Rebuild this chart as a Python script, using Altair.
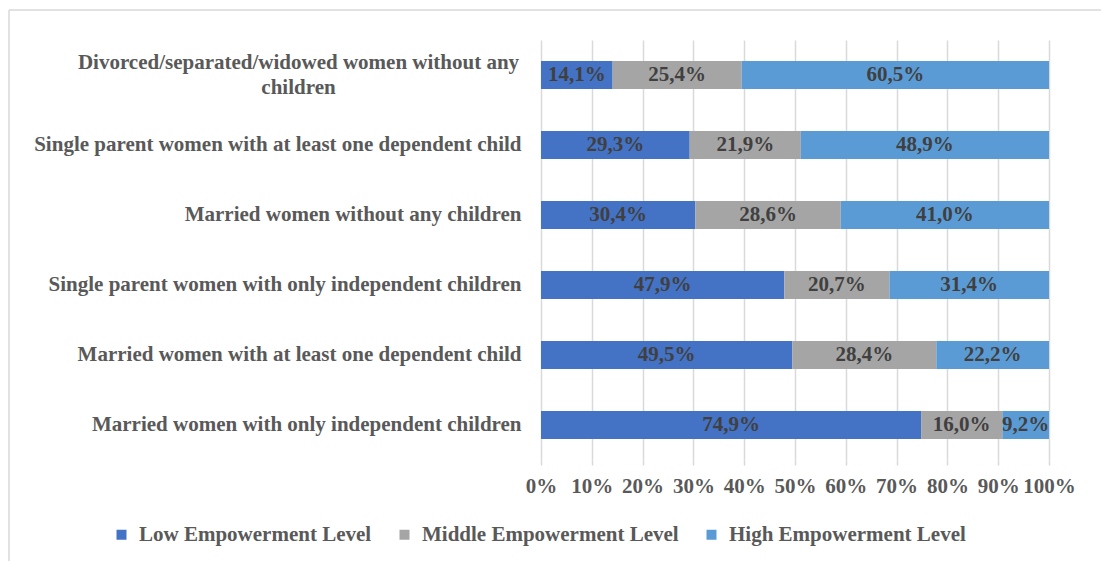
import altair as alt
import pandas as pd

# Household groups, top to bottom
groups = [
    "Divorced/separated/widowed women without any children",
    "Single parent women with at least one dependent child",
    "Married women without any children",
    "Single parent women with only independent children",
    "Married women with at least one dependent child",
    "Married women with only independent children",
]
levels = ["Low Empowerment Level", "Middle Empowerment Level", "High Empowerment Level"]
colors = ["#4472C4", "#A5A5A5", "#5B9BD5"]

low = [14.1, 29.3, 30.4, 47.9, 49.5, 74.9]
middle = [25.4, 21.9, 28.6, 20.7, 28.4, 16.0]
high = [60.5, 48.9, 41.0, 31.4, 22.2, 9.2]

rows = []
for i, g in enumerate(groups):
    for k, (lvl, vals) in enumerate(zip(levels, [low, middle, high])):
        rows.append({"group": g, "level": lvl, "order": k, "value": vals[i]})
df = pd.DataFrame(rows)

FONT = "Liberation Serif"
FS = 21
GRID = "#D9D9D9"
TXT = "#595959"

base = alt.Chart(df).transform_stack(
    stack="value",
    groupby=["group"],
    as_=["x0", "x1"],
    offset="normalize",
    sort=[alt.SortField("order", order="ascending")],
).transform_calculate(
    mid="(datum.x0 + datum.x1) / 2",
    lab="replace(format(datum.value, '.1f'), '.', ',') + '%'",
)

wrap_test = f"datum.value == '{groups[0]}'"
label_expr = (
    f"datum.label == '{groups[0]}' ? "
    "['Divorced/separated/widowed women without any', 'children'] : "
    f"datum.label == '{groups[4]}' ? datum.label + '\u00a0\u00a0' : "
    f"datum.label == '{groups[5]}' ? datum.label + '\u00a0' : datum.label"
)

y_enc = alt.Y(
    "group:N",
    sort=groups,
    title=None,
    scale=alt.Scale(paddingInner=0.6, paddingOuter=0.3),
    axis=alt.Axis(
        domain=False,
        ticks=False,
        labelFont=FONT,
        labelFontSize=FS,
        labelFontWeight="bold",
        labelColor=TXT,
        labelLimit=700,
        labelLineHeight=25,
        labelPadding={"condition": {"test": wrap_test, "value": 243}, "value": 20},
        labelAlign={"condition": {"test": wrap_test, "value": "center"}, "value": "right"},
        labelOffset={"condition": {"test": wrap_test, "value": -12}, "value": 0},
        labelExpr=label_expr,
    ),
)

bars = base.mark_bar().encode(
    x=alt.X(
        "x0:Q",
        title=None,
        scale=alt.Scale(domain=[0, 1], nice=False),
        axis=alt.Axis(
            format="%",
            values=[i / 10 for i in range(11)],
            labelOverlap=False,
            labelFlush=False,
            domain=False,
            grid=True,
            gridColor=GRID,
            gridWidth=1.5,
            ticks=True,
            tickColor=GRID,
            tickWidth=1.5,
            tickSize=5,
            labelPadding=10,
            labelFont=FONT,
            labelFontSize=FS,
            labelFontWeight="bold",
            labelColor=TXT,
        ),
    ),
    x2="x1:Q",
    y=y_enc,
    color=alt.Color(
        "level:N",
        sort=levels,
        scale=alt.Scale(domain=levels, range=colors),
        legend=alt.Legend(
            title=None,
            orient="none",
            direction="horizontal",
            legendX=-430,
            legendY=484,
            symbolType="square",
            symbolSize=100,
            symbolStrokeWidth=0,
            labelFont=FONT,
            labelFontSize=FS,
            labelFontWeight="bold",
            labelColor=TXT,
            labelOffset=7,
            columnPadding=22,
            labelLimit=400,
        ),
    ),
)

labels = base.mark_text(
    font=FONT, fontSize=FS, fontWeight="bold", color="#404040", baseline="middle"
).encode(
    x="mid:Q",
    y=alt.Y("group:N", sort=groups),
    text="lab:N",
)

frame_df = pd.DataFrame({"k": [0]})
frame_top = alt.Chart(frame_df).mark_rule(color=GRID, strokeWidth=1.5).encode(
    x=alt.value(-532), x2=alt.value(600), y=alt.value(-30)
)
frame_left = alt.Chart(frame_df).mark_rule(color=GRID, strokeWidth=1.5).encode(
    x=alt.value(-532), y=alt.value(-30), y2=alt.value(560)
)

chart = alt.layer(frame_top, frame_left, bars, labels).properties(
    width=508,
    height=420,
    autosize=alt.AutoSizeParams(type="none"),
    padding={"left": 541, "top": 40, "right": 52, "bottom": 101},
).configure_view(stroke=None)

chart.save("out.html", embed_options={"renderer": "svg", "actions": False})
